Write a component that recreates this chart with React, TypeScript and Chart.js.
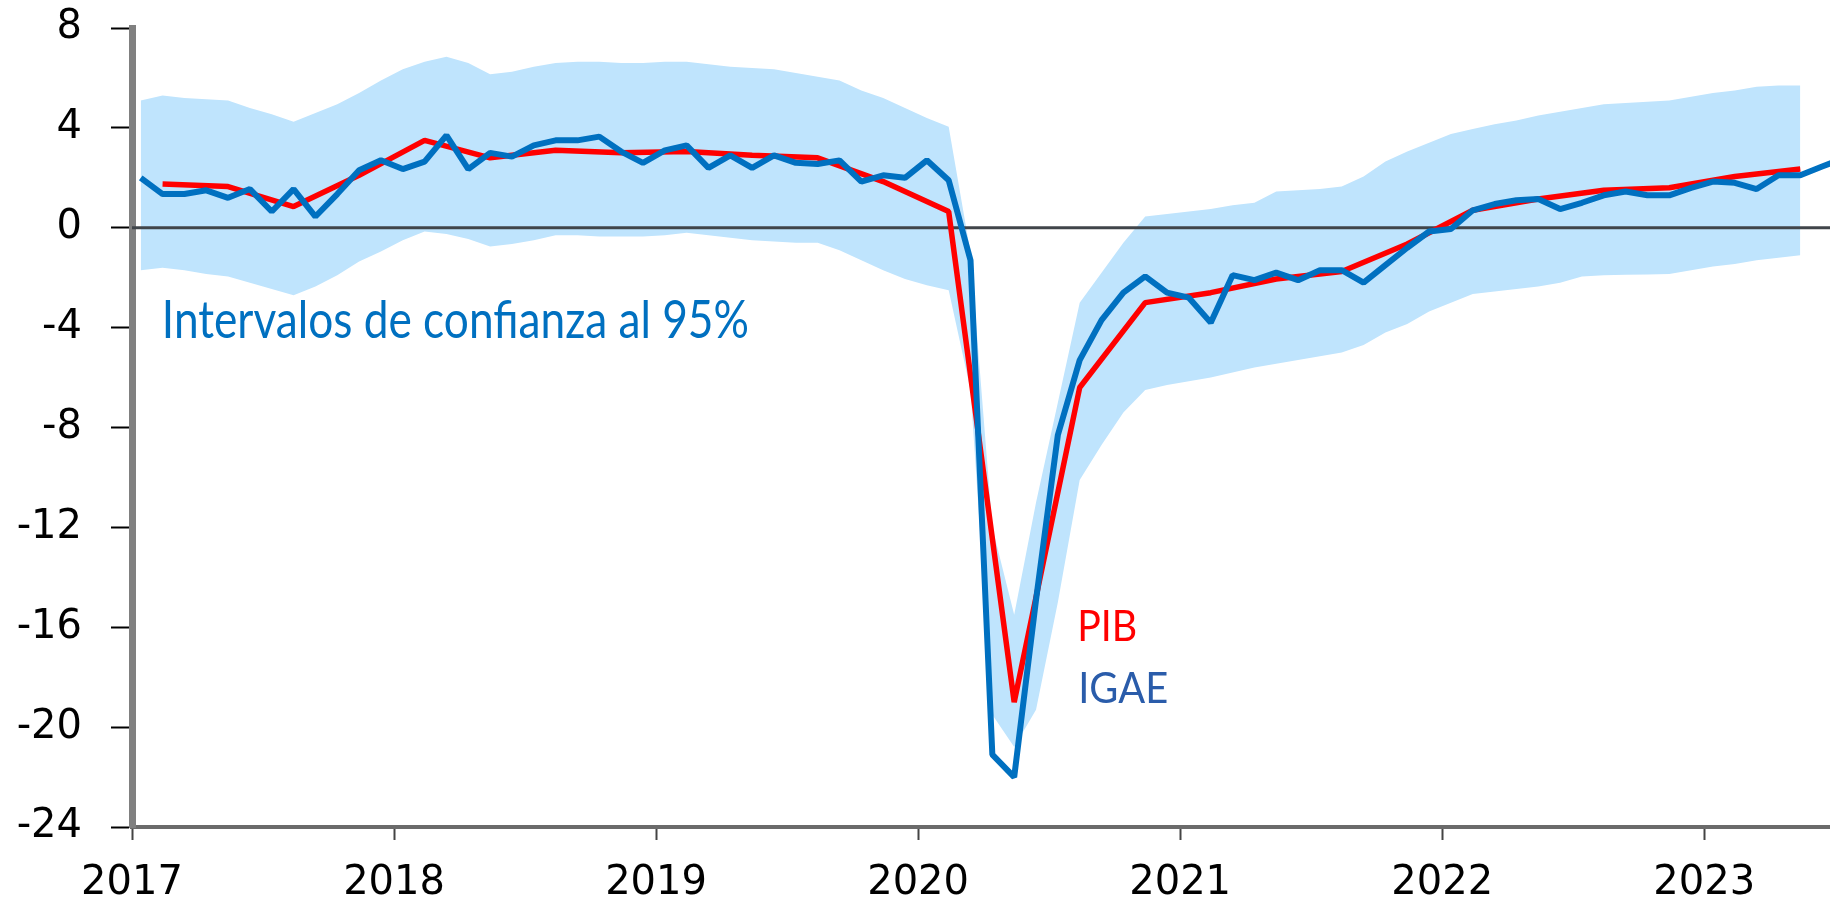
import React, { useEffect, useRef } from 'react';
import { Chart, registerables } from 'chart.js';

Chart.register(...registerables);

// ---------- DATA ----------
const START_YEAR = 2017;

// IGAE, annual % change, monthly from Jan 2017 (index 0) to Jul 2023
const igae = [
  2.0, 1.35, 1.35, 1.5, 1.2, 1.55, 0.65, 1.55, 0.45, 1.35, 2.3, 2.7,
  2.35, 2.65, 3.7, 2.35, 3.0, 2.85, 3.3, 3.5, 3.5, 3.65, 3.05, 2.6,
  3.1, 3.3, 2.4, 2.9, 2.4, 2.9, 2.6, 2.55, 2.7, 1.85, 2.1, 2.0,
  2.7, 1.9, -1.3, -21.1, -22.0, -14.9, -8.3, -5.3, -3.7, -2.6, -1.95, -2.6,
  -2.8, -3.8, -1.9, -2.1, -1.8, -2.1, -1.7, -1.7, -2.2, -1.5, -0.8, -0.15,
  -0.05, 0.7, 0.95, 1.1, 1.15, 0.75, 1.0, 1.3, 1.45, 1.3, 1.3, 1.6,
  1.85, 1.8, 1.55, 2.1, 2.1, 2.45, 2.8,
];

// PIB, quarterly, plotted at the middle month of each quarter (month index)
const pibMonths = [
  1, 4, 7, 10, 13, 16, 19, 22, 25, 28, 31, 34, 37,
  40, 43, 46, 49, 52, 55, 58, 61, 64, 67, 70, 73, 76,
];
const pib = [
  1.75, 1.65, 0.85, 2.1, 3.5, 2.8, 3.1, 3.0, 3.05, 2.9, 2.8, 1.85, 0.65,
  -19.0, -6.4, -3.0, -2.6, -2.05, -1.75, -0.65, 0.7, 1.15, 1.5, 1.6, 2.05, 2.35,
];

// 95% confidence band, monthly from Jan 2017 to May 2023
const bandUpper = [
  5.1, 5.3, 5.2, 5.15, 5.1, 4.8, 4.55, 4.25, 4.6, 4.95, 5.4, 5.9,
  6.35, 6.65, 6.85, 6.6, 6.15, 6.25, 6.45, 6.6, 6.65, 6.65, 6.6, 6.6,
  6.65, 6.65, 6.55, 6.45, 6.4, 6.35, 6.2, 6.05, 5.9, 5.5, 5.2, 4.8,
  4.4, 4.05, -1.0, -12.0, -15.5, -11.0, -7.0, -3.0, -1.8, -0.6, 0.45, 0.55,
  0.65, 0.75, 0.9, 1.0, 1.45, 1.5, 1.55, 1.65, 2.05, 2.65, 3.05, 3.4,
  3.75, 3.95, 4.15, 4.3, 4.5, 4.65, 4.8, 4.95, 5.0, 5.05, 5.1, 5.25,
  5.4, 5.5, 5.65, 5.7, 5.7,
];
const bandLower = [
  -1.7, -1.6, -1.7, -1.85, -1.95, -2.2, -2.45, -2.7, -2.35, -1.9, -1.35, -0.95,
  -0.5, -0.15, -0.25, -0.45, -0.75, -0.65, -0.5, -0.3, -0.3, -0.35, -0.35, -0.35,
  -0.3, -0.2, -0.3, -0.4, -0.5, -0.55, -0.6, -0.6, -0.9, -1.3, -1.7, -2.05,
  -2.3, -2.5, -6.5, -19.5, -20.8, -19.3, -15.0, -10.1, -8.7, -7.4, -6.5, -6.3,
  -6.15, -6.0, -5.8, -5.6, -5.45, -5.3, -5.15, -5.0, -4.7, -4.2, -3.85, -3.35,
  -3.0, -2.65, -2.55, -2.45, -2.35, -2.2, -1.95, -1.9, -1.88, -1.87, -1.85, -1.7,
  -1.55, -1.45, -1.3, -1.2, -1.1,
];

const yTickValues = [8, 4, 0, -4, -8, -12, -16, -20, -24];
const xTickLabels = ['2017', '2018', '2019', '2020', '2021', '2022', '2023'];
const X_MIN = 2017;
const X_MAX = 2023.48;
const Y_MIN = -24;
const Y_MAX = 8;

// ---------- HELPERS ----------
const monthToX = (i: number) => START_YEAR + (i + 0.4) / 12;
const toPoints = (vals: number[], months?: number[]) =>
  vals.map((v, k) => ({ x: monthToX(months ? months[k] : k), y: v }));

const annotations = [
  { text: 'Intervalos de confianza al 95%', x: 2017.114, y: -4.4, color: '#0070C0', size: 52, maxW: 587 },
  { text: 'PIB', x: 2020.607, y: -16.56, color: '#FF0000', size: 42, maxW: 60 },
  { text: 'IGAE', x: 2020.611, y: -19.04, color: '#2A5CAA', size: 42, maxW: 90 },
];

const textPlugin = {
  id: 'textLabels',
  afterDatasetsDraw(chart: any) {
    const { ctx, scales } = chart;
    ctx.save();
    ctx.textBaseline = 'alphabetic';
    ctx.textAlign = 'left';
    annotations.forEach((a) => {
      ctx.font = `${a.size}px Lato, "Open Sans", sans-serif`;
      ctx.fillStyle = a.color;
      ctx.fillText(a.text, scales.x.getPixelForValue(a.x), scales.y.getPixelForValue(a.y), a.maxW);
    });
    ctx.restore();
  },
};

export default function App() {
  const ref = useRef<HTMLCanvasElement | null>(null);

  useEffect(() => {
    document.body.style.margin = '0';
    document.body.style.overflow = 'hidden';
    const canvas = ref.current;
    if (!canvas) return;
    const chart = new Chart(canvas, {
      type: 'line',
      data: {
        datasets: [
          {
            label: 'lower',
            data: toPoints(bandLower),
            borderWidth: 0,
            pointRadius: 0,
            fill: false,
            tension: 0,
            order: 5,
          },
          {
            label: 'upper',
            data: toPoints(bandUpper),
            borderWidth: 0,
            pointRadius: 0,
            backgroundColor: '#BFE4FD',
            fill: 0,
            tension: 0,
            order: 4,
          },
          {
            label: 'zero',
            data: [
              { x: X_MIN, y: 0 },
              { x: X_MAX, y: 0 },
            ],
            borderColor: '#40454a',
            borderWidth: 3,
            pointRadius: 0,
            fill: false,
            order: 3,
          },
          {
            label: 'PIB',
            data: toPoints(pib, pibMonths),
            borderColor: '#FF0000',
            borderWidth: 5.5,
            borderJoinStyle: 'bevel',
            pointRadius: 0,
            fill: false,
            tension: 0,
            order: 2,
          },
          {
            label: 'IGAE',
            data: toPoints(igae),
            borderColor: '#0070C0',
            borderWidth: 6,
            borderJoinStyle: 'bevel',
            pointRadius: 0,
            fill: false,
            tension: 0,
            order: 1,
          },
        ],
      },
      options: {
        responsive: false,
        animation: false,
        events: [],
        layout: { padding: { top: 28, right: 0, bottom: 0, left: 0 } },
        plugins: {
          legend: { display: false },
          tooltip: { enabled: false },
          title: { display: false },
        },
        scales: {
          x: {
            type: 'linear',
            min: X_MIN,
            max: X_MAX,
            afterBuildTicks: (scale: any) => {
              scale.ticks = xTickLabels.map((l) => ({ value: Number(l) }));
            },
            afterFit: (scale: any) => {
              scale.height = 75;
              scale.paddingLeft = 0;
              scale.paddingRight = 0;
            },
            ticks: {
              autoSkip: false,
              maxRotation: 0,
              padding: 20,
              color: '#000',
              font: { family: '"DejaVu Sans"', size: 40 },
              callback: (v: any) => {
                const idx = xTickLabels.indexOf(String(v));
                return idx >= 0 ? xTickLabels[idx] : '';
              },
            },
            grid: {
              drawOnChartArea: false,
              drawTicks: true,
              tickLength: 13,
              tickColor: '#444',
              tickWidth: 2,
            },
            border: { display: true, color: '#6b6b6b', width: 4 },
          },
          y: {
            type: 'linear',
            min: Y_MIN,
            max: Y_MAX,
            afterBuildTicks: (scale: any) => {
              scale.ticks = yTickValues.map((v) => ({ value: v }));
            },
            afterFit: (scale: any) => {
              scale.width = 132;
              scale.paddingTop = 0;
              scale.paddingBottom = 0;
            },
            ticks: {
              padding: 29,
              color: '#000',
              font: { family: '"DejaVu Sans"', size: 40 },
              callback: (v: any) => String(v),
            },
            grid: {
              drawOnChartArea: false,
              drawTicks: true,
              tickLength: 21,
              tickColor: '#000',
              tickWidth: 2,
            },
            border: { display: true, color: '#808080', width: 7 },
          },
        },
      },
      plugins: [textPlugin],
    } as any);
    return () => chart.destroy();
  }, []);

  return <canvas ref={ref} width={1830} height={902} style={{ display: 'block' }} />;
}
